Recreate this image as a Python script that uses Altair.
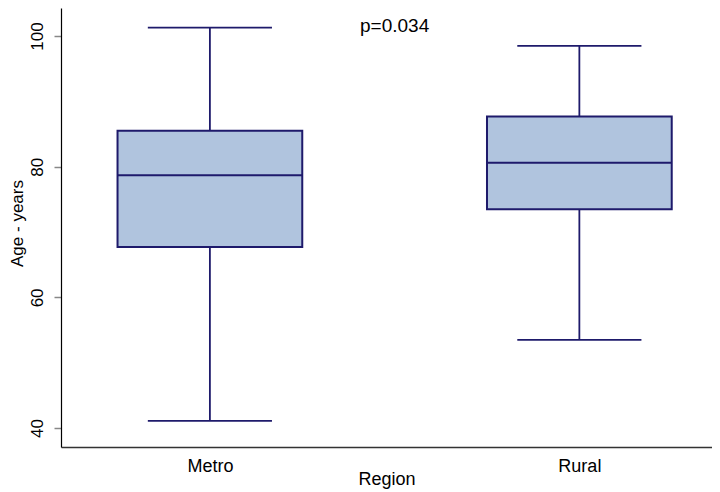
import altair as alt
import pandas as pd

categories = ["Metro", "Rural"]
positions = [1, 2]
whisker_low = [41.1, 53.5]
q1 = [67.7, 73.5]
median = [78.7, 80.6]
q3 = [85.5, 87.7]
whisker_high = [101.3, 98.5]
p_label = "p=0.034"

df = pd.DataFrame({
    "Region": categories,
    "pos": positions,
    "lo": whisker_low,
    "q1": q1,
    "med": median,
    "q3": q3,
    "hi": whisker_high,
})

FILL = "#B0C4DE"
STROKE = "#1E1A6B"
FONT = "Liberation Sans"

xscale = alt.Scale(domain=[0.597, 2.359], nice=False, zero=False)
yscale = alt.Scale(domain=[37.1, 104.3], nice=False, zero=False)

xaxis = alt.Axis(
    title="Region", values=[1, 2],
    labelExpr="datum.value == 1 ? 'Metro' : 'Rural'",
    ticks=False, tickSize=0, grid=False,
    domainColor="#333333", domainWidth=1.5,
    labelFont=FONT, labelFontSize=18, labelColor="black",
    labelBaseline="alphabetic", labelPadding=24,
    titleFont=FONT, titleFontSize=18, titleFontWeight="normal", titleColor="black",
    titleBaseline="alphabetic", titleY=37,
)
yaxis = alt.Axis(
    title="Age - years", values=[40, 60, 80, 100], grid=False,
    tickSize=7, tickColor="#888888", tickWidth=1.5,
    domainColor="black", domainWidth=1.2,
    labelFont=FONT, labelFontSize=17, labelColor="black",
    labelAngle=-90, labelAlign="center", labelBaseline="bottom", labelPadding=8,
    titleFont=FONT, titleFontSize=17, titleFontWeight="normal", titleColor="black",
    titleX=-35, titleY=215,
)

base = alt.Chart(df).transform_calculate(
    bl="datum.pos - 0.25", br="datum.pos + 0.25",
    cl="datum.pos - 0.168", cr="datum.pos + 0.168",
)

whisk = base.mark_rule(color=STROKE, strokeWidth=1.8).encode(
    x=alt.X("pos:Q", scale=xscale, axis=xaxis),
    y=alt.Y("lo:Q", scale=yscale, axis=yaxis),
    y2="hi:Q",
)
cap_lo = base.mark_rule(color=STROKE, strokeWidth=1.8).encode(
    x=alt.X("cl:Q", scale=xscale), x2="cr:Q", y=alt.Y("lo:Q", scale=yscale))
cap_hi = base.mark_rule(color=STROKE, strokeWidth=1.8).encode(
    x=alt.X("cl:Q", scale=xscale), x2="cr:Q", y=alt.Y("hi:Q", scale=yscale))
box = base.mark_rect(fill=FILL, stroke=STROKE, strokeWidth=2).encode(
    x=alt.X("bl:Q", scale=xscale), x2="br:Q",
    y=alt.Y("q1:Q", scale=yscale), y2="q3:Q",
)
med = base.mark_rule(color=STROKE, strokeWidth=2).encode(
    x=alt.X("bl:Q", scale=xscale), x2="br:Q", y=alt.Y("med:Q", scale=yscale))

ptext = alt.Chart(pd.DataFrame({"t": [p_label]})).mark_text(
    font=FONT, fontSize=19, color="black", baseline="alphabetic", align="center"
).encode(x=alt.datum(1.5, scale=xscale), y=alt.datum(100.7, scale=yscale), text="t:N")

chart = alt.layer(whisk, cap_lo, cap_hi, box, med, ptext).properties(
    width=651, height=439,
    autosize=alt.AutoSizeParams(type="none"),
    padding={"left": 53, "top": 0, "right": 0, "bottom": 45},
).configure(background="white").configure_view(stroke=None, strokeWidth=0)

chart.save("out.html", embed_options={"renderer": "svg", "actions": False})
